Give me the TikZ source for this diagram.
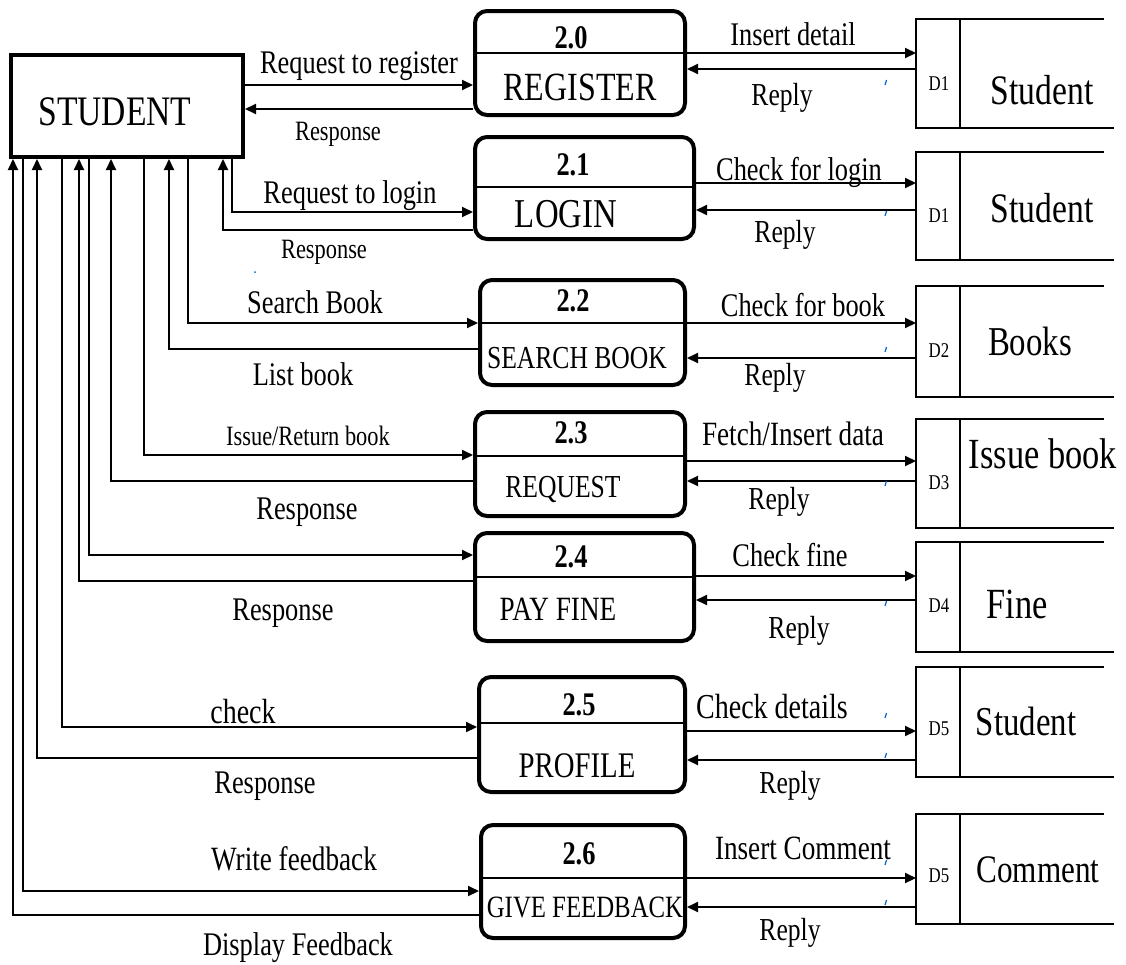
\documentclass[tikz,border=0pt]{standalone}
\usepackage{fontspec}
\setmainfont{Liberation Serif}[FakeStretch=0.8]
\usetikzlibrary{arrows.meta}
\definecolor{tickblue}{RGB}{0,102,204}
\begin{document}
\begin{tikzpicture}[x=1pt,y=-1pt,
  conn/.style={line width=2pt},
  arr/.style={conn,-{Triangle[length=11pt,width=10pt]}},
  procbox/.style={draw,line width=4pt,rounded corners=12pt,inner sep=0pt},
  divline/.style={line width=2pt},
  storebox/.style={inner sep=0pt,outer sep=0pt},
  storeline/.style={line width=2pt},
  txt/.style={inner sep=0pt,anchor=base,font=\fontsize{#1}{#1}\selectfont},
  num/.style={inner sep=0pt,anchor=base,font=\fontsize{#1}{#1}\selectfont\bfseries},
  btick/.style={tickblue,line width=1.2pt}
]
\fill[white] (0,0) rectangle (1126,964);
\useasboundingbox (0,0) rectangle (1126,964);

% external entity
\node[draw,line width=4pt,minimum width=232pt,minimum height=102pt,inner sep=0pt] (stu) at (127,106) {};
\node[txt=42] (stuT) at (115,125) {STUDENT};

% processes
\node[procbox,minimum width=210pt,minimum height=104pt] (p20) at (580,63) {};
\node[procbox,minimum width=219pt,minimum height=102pt] (p21) at (584.5,188) {};
\node[procbox,minimum width=205pt,minimum height=105pt] (p22) at (582.5,332.5) {};
\node[procbox,minimum width=210pt,minimum height=104pt] (p23) at (580,464) {};
\node[procbox,minimum width=219pt,minimum height=108pt] (p24) at (584.5,587) {};
\node[procbox,minimum width=206pt,minimum height=115pt] (p25) at (582,734.5) {};
\node[procbox,minimum width=204pt,minimum height=113pt] (p26) at (583,881.5) {};

\draw[divline] (p20.west |- 0,53) -- (p20.east |- 0,53);
\draw[divline] (p21.west |- 0,187) -- (p21.east |- 0,187);
\draw[divline] (p22.west |- 0,323) -- (p22.east |- 0,323);
\draw[divline] (p23.west |- 0,456) -- (p23.east |- 0,456);
\draw[divline] (p24.west |- 0,577) -- (p24.east |- 0,577);
\draw[divline] (p25.west |- 0,723) -- (p25.east |- 0,723);
\draw[divline] (p26.west |- 0,878) -- (p26.east |- 0,878);

\node[num=33] (n20) at (571,48) {2.0};
\node[txt=40] (t20) at (580,100) {REGISTER};
\node[num=33] (n21) at (573,175) {2.1};
\node[txt=41] (t21) at (566,227) {LOGIN};
\node[num=33] (n22) at (573,311) {2.2};
\node[txt=32] (t22) at (577,368) {SEARCH BOOK};
\node[num=33] (n23) at (571,443) {2.3};
\node[txt=32] (t23) at (563,497) {REQUEST};
\node[num=33] (n24) at (571,567) {2.4};
\node[txt=34] (t24) at (558,620) {PAY FINE};
\node[num=33] (n25) at (579,715) {2.5};
\node[txt=36] (t25) at (577,777) {PROFILE};
\node[num=33] (n26) at (579,864) {2.6};
\node[txt=31] (t26) at (585,917) {GIVE FEEDBACK};

% data stores
\node[storebox,minimum width=194pt,minimum height=109pt] (s1) at (1013,73.5) {};
\node[storebox,minimum width=194pt,minimum height=108pt] (s2) at (1013,206) {};
\node[storebox,minimum width=194pt,minimum height=111pt] (s3) at (1013,341.5) {};
\node[storebox,minimum width=194pt,minimum height=109pt] (s4) at (1013,473.5) {};
\node[storebox,minimum width=194pt,minimum height=110pt] (s5) at (1013,597) {};
\node[storebox,minimum width=194pt,minimum height=110pt] (s6) at (1013,722) {};
\node[storebox,minimum width=194pt,minimum height=110pt] (s7) at (1013,869) {};
\foreach \s in {s1,s2,s3,s4,s5,s6,s7}{
  \draw[storeline] ([xshift=-6pt]\s.north east) -- (\s.north west) -- (\s.south west) -- ([xshift=4pt]\s.south east);
  \draw[storeline] ([xshift=44pt]\s.north west) -- ([xshift=44pt]\s.south west);
}
\node[txt=21] (d1) at (939,90) {D1};
\node[txt=42] (sn1) at (1042,104) {Student};
\node[txt=21] (d2) at (939,222) {D1};
\node[txt=42] (sn2) at (1042,222) {Student};
\node[txt=21] (d3) at (939,357) {D2};
\node[txt=41] (sn3) at (1030,355) {Books};
\node[txt=21] (d4) at (939,489) {D3};
\node[txt=43] (sn4) at (1043,468) {Issue book};
\node[txt=21] (d5) at (939,612) {D4};
\node[txt=43] (sn5) at (1017,618) {Fine};
\node[txt=21] (d6) at (939,735) {D5};
\node[txt=41] (sn6) at (1026,735) {Student};
\node[txt=21] (d7) at (939,882) {D5};
\node[txt=39] (sn7) at (1038,882) {Comment};

% student <-> processes
\draw[arr] (stu.east |- 0,85) -- (p20.west |- 0,85);
\draw[arr] (p20.west |- 0,109) -- (stu.east |- 0,109);
\draw[arr] (stu.south -| 232,0) |- (p21.west |- 0,212);
\draw[arr] (p21.west |- 0,230) -| (stu.south -| 223,0);
\draw[arr] (stu.south -| 188,0) |- (p22.west |- 0,323);
\draw[arr] (p22.west |- 0,349) -| (stu.south -| 169,0);
\draw[arr] (stu.south -| 144,0) |- (p23.west |- 0,455);
\draw[arr] (p23.west |- 0,481) -| (stu.south -| 111,0);
\draw[arr] (stu.south -| 89,0) |- (p24.west |- 0,555);
\draw[arr] (p24.west |- 0,581) -| (stu.south -| 79,0);
\draw[arr] (stu.south -| 62,0) |- (p25.west |- 0,727);
\draw[arr] (p25.west |- 0,758) -| (stu.south -| 37,0);
\draw[arr] (stu.south -| 23,0) |- (p26.west |- 0,891);
\draw[arr] (p26.west |- 0,915) -| (stu.south -| 13,0);

\node[txt=33] (l1) at (359,73) {Request to register};
\node[txt=28] (l2) at (338,140) {Response};
\node[txt=33] (l3) at (350,203) {Request to login};
\node[txt=28] (l4) at (324,258) {Response};
\node[txt=33] (l5) at (315,313) {Search Book};
\node[txt=33] (l6) at (303,385) {List book};
\node[txt=28] (l7) at (308,445) {Issue/Return book};
\node[txt=33] (l8) at (307,519) {Response};
\node[txt=33] (l9) at (283,620) {Response};
\node[txt=35] (l10) at (243,723) {check};
\node[txt=33] (l11) at (265,793) {Response};
\node[txt=34] (l12) at (294,870) {Write feedback};
\node[txt=33] (l13) at (298,955) {Display Feedback};

% processes <-> stores
\draw[arr] (p20.east |- 0,53) -- (s1.west |- 0,53);
\draw[arr] (s1.west |- 0,69) -- (p20.east |- 0,69);
\draw[arr] (p21.east |- 0,183) -- (s2.west |- 0,183);
\draw[arr] (s2.west |- 0,210) -- (p21.east |- 0,210);
\draw[arr] (p22.east |- 0,323) -- (s3.west |- 0,323);
\draw[arr] (s3.west |- 0,358) -- (p22.east |- 0,358);
\draw[arr] (p23.east |- 0,461) -- (s4.west |- 0,461);
\draw[arr] (s4.west |- 0,481) -- (p23.east |- 0,481);
\draw[arr] (p24.east |- 0,576) -- (s5.west |- 0,576);
\draw[arr] (s5.west |- 0,600) -- (p24.east |- 0,600);
\draw[arr] (p25.east |- 0,731) -- (s6.west |- 0,731);
\draw[arr] (s6.west |- 0,760) -- (p25.east |- 0,760);
\draw[arr] (p26.east |- 0,878) -- (s7.west |- 0,878);
\draw[arr] (s7.west |- 0,907) -- (p26.east |- 0,907);

\node[txt=33] (r20a) at (793,45) {Insert detail};
\node[txt=32] (r20b) at (782,105) {Reply};
\node[txt=33] (r21a) at (799,180) {Check for login};
\node[txt=32] (r21b) at (785,242) {Reply};
\node[txt=33] (r22a) at (803,316) {Check for book};
\node[txt=32] (r22b) at (775,385) {Reply};
\node[txt=34] (r23a) at (793,445) {Fetch/Insert data};
\node[txt=32] (r23b) at (779,509) {Reply};
\node[txt=33] (r24a) at (790,566) {Check fine};
\node[txt=32] (r24b) at (799,638) {Reply};
\node[txt=35] (r25a) at (772,718) {Check details};
\node[txt=32] (r25b) at (790,793) {Reply};
\node[txt=34] (r26a) at (803,859) {Insert Comment};
\node[txt=32] (r26b) at (790,940) {Reply};

% small blue marks
\foreach \y in {80,211,347,481,601,713,753,860,900}{
  \draw[btick] (886.5,\y) -- ++(-1.5,5);
}
\fill[tickblue] (255,272) circle (1pt);
\end{tikzpicture}
\end{document}
